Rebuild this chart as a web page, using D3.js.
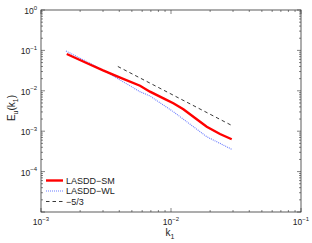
<!DOCTYPE html>
<html><head><meta charset="utf-8">
<script src="https://cdn.jsdelivr.net/npm/d3@7"></script>
<style>body{margin:0;background:#fff;}svg{display:block;font-family:"Liberation Sans",Arial,sans-serif;}</style>
</head><body><svg id="c" width="312" height="243"></svg>
<script>
const smK = [0.001578,0.00224,0.0030,0.00398,0.00578,0.00689,0.00891,0.01042,0.01245,0.01549,0.01884,0.02382,0.02931];
const smE = [0.0815,0.0488,0.032,0.0219,0.01337,0.00951,0.0063,0.00491,0.00348,0.00206,0.00129,0.000853,0.000631];
const wlK = [0.001556,0.00224,0.0030,0.00398,0.00578,0.00689,0.01042,0.01884,0.02931];
const wlE = [0.0966,0.0531,0.0327,0.0191,0.0095,0.00743,0.00304,0.000731,0.000356];
const refK = [0.0039,0.0293];
const refE = [0.040,0.00139];
const xTickExp = [-3,-2,-1];
const yTickExp = [0,-1,-2,-3,-4];
const legendLabels = ["LASDD\u2212SM","LASDD\u2212WL","\u22125/3"];

const L=41,R=301,T=10,B=212;
const svg=d3.select("#c");
const x=d3.scaleLog().domain([1e-3,1e-1]).range([L,R]);
const y=d3.scaleLog().domain([1e-5,1]).range([B,T]);
const axc="#333";

const g=svg.append("g").attr("stroke",axc).attr("stroke-width",0.6);
const xt=[];for(let e=-3;e<-1;e++)for(let m=1;m<10;m++)xt.push({v:m*Math.pow(10,e),maj:m===1});xt.push({v:0.1,maj:true});
xt.forEach(t=>{const px=x(t.v),len=t.maj?4:2;
 g.append("line").attr("x1",px).attr("x2",px).attr("y1",B).attr("y2",B-len);
 g.append("line").attr("x1",px).attr("x2",px).attr("y1",T).attr("y2",T+len);});
const yt=[];for(let e=-5;e<0;e++)for(let m=1;m<10;m++)yt.push({v:m*Math.pow(10,e),maj:m===1});yt.push({v:1,maj:true});
yt.forEach(t=>{const py=y(t.v),len=t.maj?4:2;
 g.append("line").attr("y1",py).attr("y2",py).attr("x1",L).attr("x2",L+len);
 g.append("line").attr("y1",py).attr("y2",py).attr("x1",R).attr("x2",R-len);});
svg.append("rect").attr("x",L).attr("y",T).attr("width",R-L).attr("height",B-T).attr("fill","none").attr("stroke",axc).attr("stroke-width",0.8);

xTickExp.forEach(e=>{const t=svg.append("text").attr("x",x(Math.pow(10,e))).attr("y",225).attr("text-anchor","middle").attr("font-size",8.5).attr("fill","#222");
 t.append("tspan").text("10");t.append("tspan").attr("dy",-4.5).attr("font-size",6).text("\u2212"+(-e));});
yTickExp.forEach(e=>{const t=svg.append("text").attr("x",37).attr("y",y(Math.pow(10,e))+4).attr("text-anchor","end").attr("font-size",8.5).attr("fill","#222");
 t.append("tspan").text("10");t.append("tspan").attr("dy",-4.5).attr("font-size",6).text(e===0?"0":"\u2212"+(-e));});

const xl=svg.append("text").attr("x",170).attr("y",236).attr("text-anchor","middle").attr("font-size",10).attr("fill","#222");
xl.append("tspan").text("k");xl.append("tspan").attr("dy",3).attr("font-size",7).text("1");
const yl=svg.append("text").attr("transform","translate(15,108) rotate(-90)").attr("text-anchor","middle").attr("font-size",10).attr("fill","#222");
yl.append("tspan").text("E");yl.append("tspan").attr("dy",3).attr("font-size",7).text("u");
yl.append("tspan").attr("dy",-3).text("(k");yl.append("tspan").attr("dy",3).attr("font-size",7).text("1");yl.append("tspan").attr("dy",-3).text(")");

const line=d3.line().x(d=>x(d[0])).y(d=>y(d[1]));
svg.append("path").datum(refK.map((k,i)=>[k,refE[i]])).attr("d",line).attr("fill","none").attr("stroke","#222").attr("stroke-width",0.9).attr("stroke-dasharray","3.5,3");
svg.append("path").datum(wlK.map((k,i)=>[k,wlE[i]])).attr("d",line).attr("fill","none").attr("stroke","#6a7cff").attr("stroke-width",1.1).attr("stroke-dasharray","1,1");
svg.append("path").datum(smK.map((k,i)=>[k,smE[i]])).attr("d",line).attr("fill","none").attr("stroke","#ff0000").attr("stroke-width",2.4);

const styles=[{c:"#ff0000",w:2.4,d:null},{c:"#6a7cff",w:1.1,d:"1,1"},{c:"#222",w:0.9,d:"3.5,3"}];
const ly=[180.5,191,201.5];
legendLabels.forEach((s,i)=>{
 svg.append("line").attr("x1",46).attr("x2",63).attr("y1",ly[i]).attr("y2",ly[i]).attr("stroke",styles[i].c).attr("stroke-width",styles[i].w).attr("stroke-dasharray",styles[i].d);
 svg.append("text").attr("x",66).attr("y",ly[i]+3.3).attr("font-size",9).attr("fill","#222").text(s);
});
</script></body></html>
